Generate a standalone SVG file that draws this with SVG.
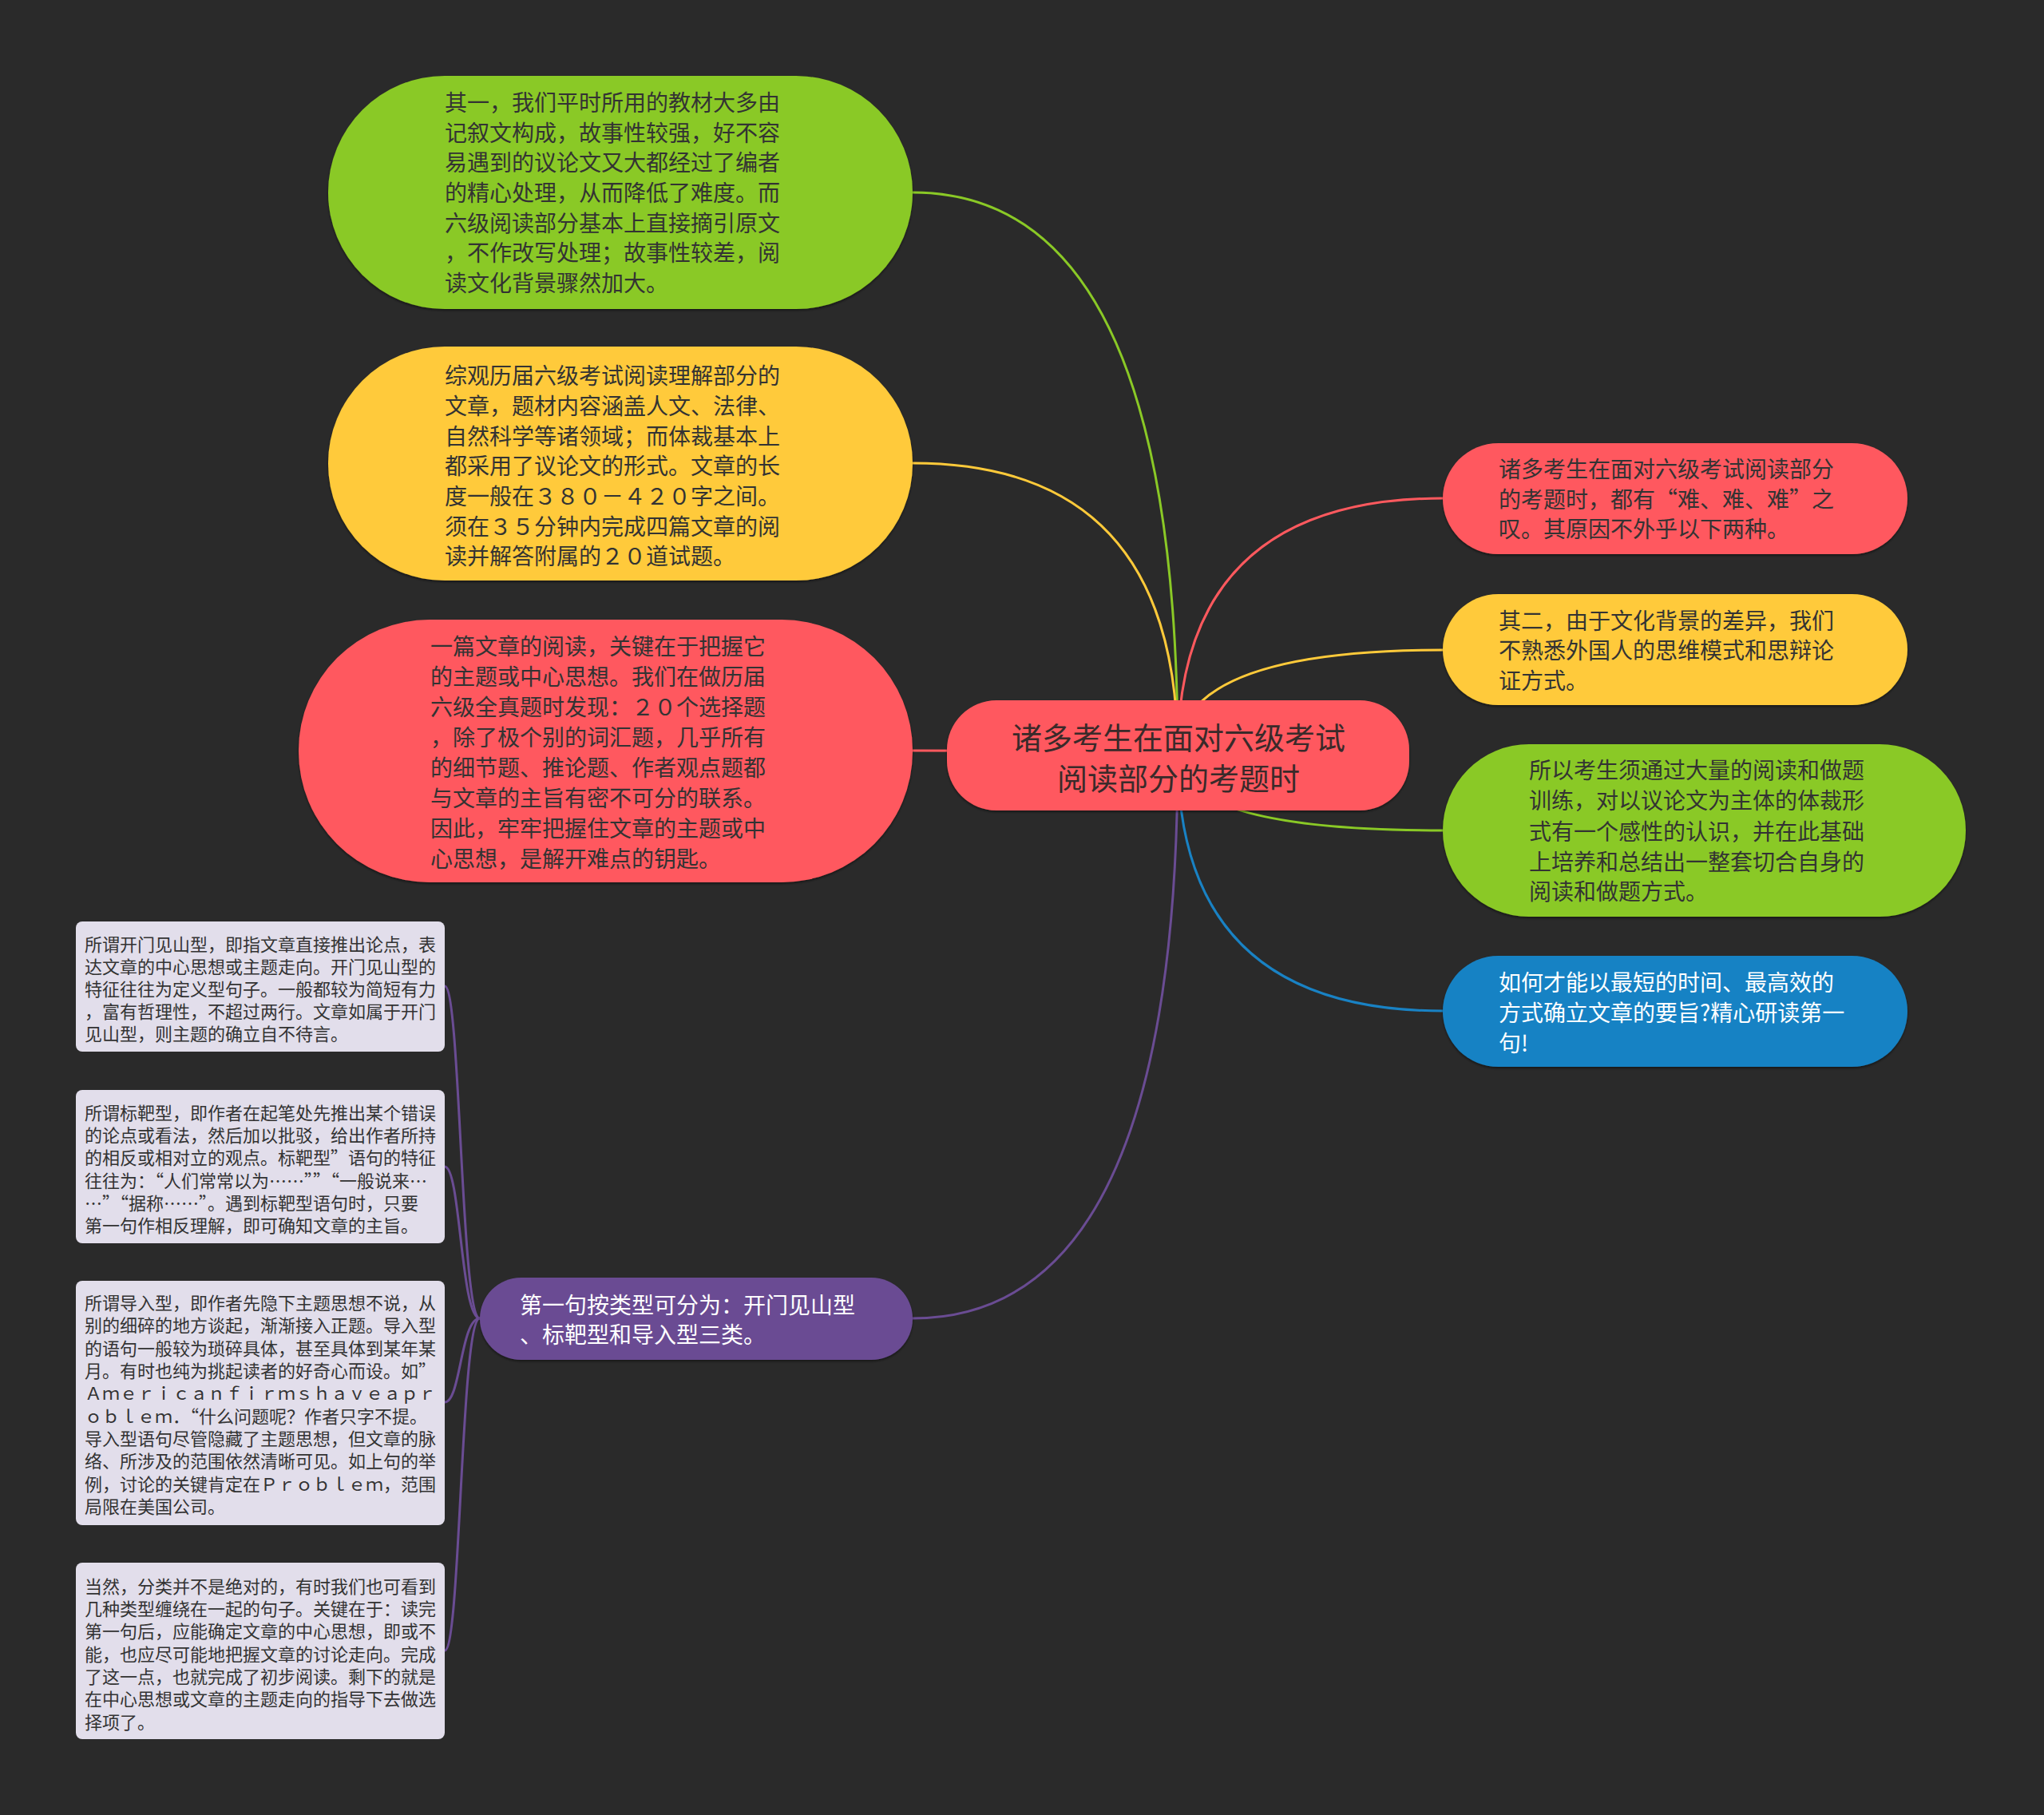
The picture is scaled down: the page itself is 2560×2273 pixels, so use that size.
<svg xmlns="http://www.w3.org/2000/svg" width="2560" height="2273" viewBox="0 0 2560 2273">
<defs>
<style>
text{font-family:"Noto Sans CJK SC","Noto Sans",sans-serif;dominant-baseline:central}
.t28{font-size:28px;fill:#333333}
.w28{font-size:28px;fill:#ffffff}
.t22{font-size:22px;fill:#333333}
.center{font-size:38px;fill:#3a2a2a;text-anchor:middle}
.leaf{fill:#e2deeb}
.edge{fill:none;stroke-width:3;stroke-linecap:round}
.node{filter:url(#sh)}
</style>
<filter id="sh" x="-5%" y="-10%" width="110%" height="125%">
<feDropShadow dx="0" dy="2" stdDeviation="1.5" flood-color="#000000" flood-opacity="0.45"/>
</filter>
</defs>
<rect x="0" y="0" width="2560" height="2273" fill="#2a2a2a"/>

<g id="connectors">
<path class="edge" stroke="#8ac926" d="M1475,945 Q1475,241 1143,241"/>
<path class="edge" stroke="#ffca3a" d="M1475,945 Q1475,580 1143,580"/>
<path class="edge" stroke="#ff595e" stroke-width="4" d="M1475,945 Q1475,940 1143,940"/>
<path class="edge" stroke="#6a4c93" d="M1475,945 Q1475,1651 1143,1651"/>
<path class="edge" stroke="#ff595e" d="M1475,945 Q1475,624 1807,624"/>
<path class="edge" stroke="#ffca3a" d="M1475,945 Q1475,814 1807,814"/>
<path class="edge" stroke="#8ac926" d="M1475,945 Q1475,1040 1807,1040"/>
<path class="edge" stroke="#1982c4" d="M1475,945 Q1475,1266 1807,1266"/>
<path class="edge" stroke="#6a4c93" d="M601,1651 C577,1651 577,1235 557,1235"/>
<path class="edge" stroke="#6a4c93" d="M601,1651 C577,1651 577,1461 557,1461"/>
<path class="edge" stroke="#6a4c93" d="M601,1651 C577,1651 577,1756 557,1756"/>
<path class="edge" stroke="#6a4c93" d="M601,1651 C577,1651 577,2067 557,2067"/>
</g>

<g id="node-center">
<rect class="node" x="1186" y="877" width="579" height="138" rx="62" fill="#ff595e"/>
<text class="center" x="1476"><tspan x="1476" y="921">诸多考生在面对六级考试</tspan><tspan x="1476" y="972">阅读部分的考题时</tspan></text>
</g>

<g id="node-left-1">
<rect class="node" x="411" y="95" width="732" height="292" rx="146" fill="#8ac926"/>
<text class="t28"><tspan x="557" y="127">其一，我们平时所用的教材大多由</tspan><tspan x="557" y="165">记叙文构成，故事性较强，好不容</tspan><tspan x="557" y="202">易遇到的议论文又大都经过了编者</tspan><tspan x="557" y="240">的精心处理，从而降低了难度。而</tspan><tspan x="557" y="278">六级阅读部分基本上直接摘引原文</tspan><tspan x="557" y="315">，不作改写处理；故事性较差，阅</tspan><tspan x="557" y="353">读文化背景骤然加大。</tspan></text>
</g>

<g id="node-left-2">
<rect class="node" x="411" y="434" width="732" height="293" rx="146" fill="#ffca3a"/>
<text class="t28"><tspan x="557" y="469">综观历届六级考试阅读理解部分的</tspan><tspan x="557" y="507">文章，题材内容涵盖人文、法律、</tspan><tspan x="557" y="545">自然科学等诸领域；而体裁基本上</tspan><tspan x="557" y="582">都采用了议论文的形式。文章的长</tspan><tspan x="557" y="620">度一般在３８０－４２０字之间。</tspan><tspan x="557" y="658">须在３５分钟内完成四篇文章的阅</tspan><tspan x="557" y="695">读并解答附属的２０道试题。</tspan></text>
</g>

<g id="node-left-3">
<rect class="node" x="374" y="776" width="769" height="329" rx="164" fill="#ff595e"/>
<text class="t28"><tspan x="539" y="808">一篇文章的阅读，关键在于把握它</tspan><tspan x="539" y="846">的主题或中心思想。我们在做历届</tspan><tspan x="539" y="884">六级全真题时发现：２０个选择题</tspan><tspan x="539" y="922">，除了极个别的词汇题，几乎所有</tspan><tspan x="539" y="960">的细节题、推论题、作者观点题都</tspan><tspan x="539" y="998">与文章的主旨有密不可分的联系。</tspan><tspan x="539" y="1036">因此，牢牢把握住文章的主题或中</tspan><tspan x="539" y="1074">心思想，是解开难点的钥匙。</tspan></text>
</g>

<g id="node-left-4">
<rect class="node" x="601" y="1600" width="542" height="103" rx="51.5" fill="#6a4c93"/>
<text class="w28"><tspan x="651" y="1633">第一句按类型可分为：开门见山型</tspan><tspan x="651" y="1670">、标靶型和导入型三类。</tspan></text>
</g>

<g id="node-right-1">
<rect class="node" x="1807" y="555" width="582" height="139" rx="69.5" fill="#ff595e"/>
<text class="t28"><tspan x="1877" y="586">诸多考生在面对六级考试阅读部分</tspan><tspan x="1877" y="624">的考题时，都有“难、难、难”之</tspan><tspan x="1877" y="661">叹。其原因不外乎以下两种。</tspan></text>
</g>

<g id="node-right-2">
<rect class="node" x="1807" y="744" width="582" height="139" rx="69.5" fill="#ffca3a"/>
<text class="t28"><tspan x="1877" y="776">其二，由于文化背景的差异，我们</tspan><tspan x="1877" y="813">不熟悉外国人的思维模式和思辩论</tspan><tspan x="1877" y="851">证方式。</tspan></text>
</g>

<g id="node-right-3">
<rect class="node" x="1807" y="932" width="655" height="216" rx="108" fill="#8ac926"/>
<text class="t28"><tspan x="1915" y="963">所以考生须通过大量的阅读和做题</tspan><tspan x="1915" y="1001">训练，对以议论文为主体的体裁形</tspan><tspan x="1915" y="1040">式有一个感性的认识，并在此基础</tspan><tspan x="1915" y="1078">上培养和总结出一整套切合自身的</tspan><tspan x="1915" y="1115">阅读和做题方式。</tspan></text>
</g>

<g id="node-right-4">
<rect class="node" x="1807" y="1197" width="582" height="139" rx="69.5" fill="#1982c4"/>
<text class="w28"><tspan x="1877" y="1229">如何才能以最短的时间、最高效的</tspan><tspan x="1877" y="1267">方式确立文章的要旨?精心研读第一</tspan><tspan x="1877" y="1305">句!</tspan></text>
</g>

<g id="leaf-1">
<rect class="leaf" x="95" y="1154" width="462" height="163" rx="8"/>
<text class="t22"><tspan x="106" y="1181">所谓开门见山型，即指文章直接推出论点，表</tspan><tspan x="106" y="1209">达文章的中心思想或主题走向。开门见山型的</tspan><tspan x="106" y="1237">特征往往为定义型句子。一般都较为简短有力</tspan><tspan x="106" y="1265">，富有哲理性，不超过两行。文章如属于开门</tspan><tspan x="106" y="1293">见山型，则主题的确立自不待言。</tspan></text>
</g>

<g id="leaf-2">
<rect class="leaf" x="95" y="1365" width="462" height="192" rx="8"/>
<text class="t22"><tspan x="106" y="1392">所谓标靶型，即作者在起笔处先推出某个错误</tspan><tspan x="106" y="1420">的论点或看法，然后加以批驳，给出作者所持</tspan><tspan x="106" y="1448">的相反或相对立的观点。标靶型”语句的特征</tspan><tspan x="106" y="1477">往往为：“人们常常以为……””“一般说来…</tspan><tspan x="106" y="1505">…”“据称……”。遇到标靶型语句时，只要</tspan><tspan x="106" y="1533">第一句作相反理解，即可确知文章的主旨。</tspan></text>
</g>

<g id="leaf-3">
<rect class="leaf" x="95" y="1604" width="462" height="306" rx="8"/>
<text class="t22"><tspan x="106" y="1630">所谓导入型，即作者先隐下主题思想不说，从</tspan><tspan x="106" y="1658">别的细碎的地方谈起，渐渐接入正题。导入型</tspan><tspan x="106" y="1687">的语句一般较为琐碎具体，甚至具体到某年某</tspan><tspan x="106" y="1715">月。有时也纯为挑起读者的好奇心而设。如”</tspan><tspan x="106" y="1743">Ａｍｅｒｉｃａｎｆｉｒｍｓｈａｖｅａｐｒ</tspan><tspan x="106" y="1772">ｏｂｌｅｍ．“什么问题呢？作者只字不提。</tspan><tspan x="106" y="1800">导入型语句尽管隐藏了主题思想，但文章的脉</tspan><tspan x="106" y="1828">络、所涉及的范围依然清晰可见。如上句的举</tspan><tspan x="106" y="1857">例，讨论的关键肯定在Ｐｒｏｂｌｅｍ，范围</tspan><tspan x="106" y="1885">局限在美国公司。</tspan></text>
</g>

<g id="leaf-4">
<rect class="leaf" x="95" y="1957" width="462" height="221" rx="8"/>
<text class="t22"><tspan x="106" y="1985">当然，分类并不是绝对的，有时我们也可看到</tspan><tspan x="106" y="2013">几种类型缠绕在一起的句子。关键在于：读完</tspan><tspan x="106" y="2041">第一句后，应能确定文章的中心思想，即或不</tspan><tspan x="106" y="2070">能，也应尽可能地把握文章的讨论走向。完成</tspan><tspan x="106" y="2098">了这一点，也就完成了初步阅读。剩下的就是</tspan><tspan x="106" y="2126">在中心思想或文章的主题走向的指导下去做选</tspan><tspan x="106" y="2155">择项了。</tspan></text>
</g>
</svg>
